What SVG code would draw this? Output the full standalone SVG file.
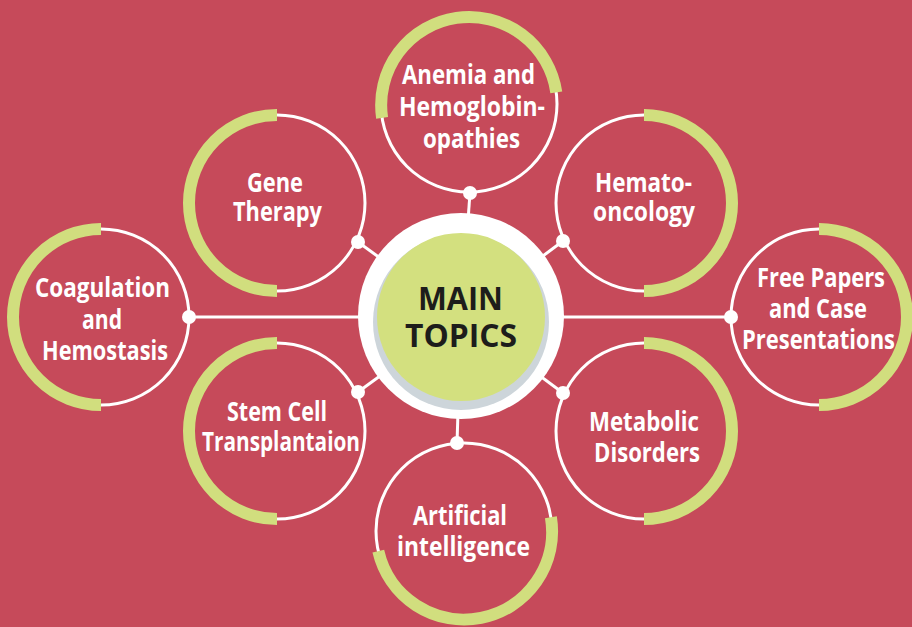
<svg xmlns="http://www.w3.org/2000/svg" width="912" height="627" viewBox="0 0 912 627">
<defs>
<style>
.ring{fill:none;stroke:#ffffff;stroke-width:3}
.arc{fill:none;stroke:#D1DE7E;stroke-width:12}
.dot{fill:#ffffff}
.lbl{font-family:"Open Sans","Liberation Sans",sans-serif;font-weight:bold;font-size:26px;fill:#ffffff;text-anchor:middle}
.main{font-family:"Open Sans","Liberation Sans",sans-serif;font-weight:bold;font-size:32px;fill:#1d1d1b;text-anchor:middle}
.conn{stroke:#ffffff;stroke-width:3;fill:none}
</style>
</defs>
<rect x="0" y="0" width="912" height="627" fill="#C64A5A"/>
<g id="connectors">
<line class="conn" x1="189" y1="317" x2="731" y2="317"/>
<line class="conn" x1="358" y1="242" x2="461" y2="317"/>
<line class="conn" x1="470" y1="193" x2="461" y2="317"/>
<line class="conn" x1="563" y1="241" x2="461" y2="317"/>
<line class="conn" x1="358" y1="392" x2="461" y2="317"/>
<line class="conn" x1="563" y1="393" x2="461" y2="317"/>
<line class="conn" x1="457" y1="443" x2="461" y2="317"/>
</g>
<g id="center">
<circle cx="461" cy="316" r="103" fill="#ffffff"/>
<circle cx="461" cy="322" r="88" fill="#CDD5DA"/>
<circle cx="461" cy="317" r="84" fill="#D3E07F"/>
<text class="main" x="460.5" y="310" textLength="85" lengthAdjust="spacingAndGlyphs">MAIN</text>
<text class="main" x="461" y="347" textLength="112" lengthAdjust="spacingAndGlyphs">TOPICS</text>
</g>
<g id="coagulation">
<circle class="ring" cx="101" cy="317" r="88"/>
<path class="arc" d="M101,229 A88,88 0 0 0 101,405"/>
<circle class="dot" cx="189" cy="317" r="7"/>
<text class="lbl" x="102.5" y="297" textLength="135" lengthAdjust="spacingAndGlyphs">Coagulation</text>
<text class="lbl" x="102" y="329" textLength="40" lengthAdjust="spacingAndGlyphs">and</text>
<text class="lbl" x="105" y="360" textLength="126" lengthAdjust="spacingAndGlyphs">Hemostasis</text>
</g>
<g id="gene-therapy">
<circle class="ring" cx="277" cy="203" r="88"/>
<path class="arc" d="M277,115 A88,88 0 0 0 277,291"/>
<circle class="dot" cx="358" cy="242" r="7"/>
<text class="lbl" x="275" y="192" textLength="56" lengthAdjust="spacingAndGlyphs">Gene</text>
<text class="lbl" x="277.5" y="221" textLength="89" lengthAdjust="spacingAndGlyphs">Therapy</text>
</g>
<g id="anemia">
<circle class="ring" cx="469" cy="104" r="88"/>
<path class="arc" d="M382.1,117.8 A88,88 0 1 1 556.3,92.3"/>
<circle class="dot" cx="470" cy="193" r="7"/>
<text class="lbl" x="468.5" y="84" textLength="133" lengthAdjust="spacingAndGlyphs">Anemia and</text>
<text class="lbl" x="472" y="116" textLength="146" lengthAdjust="spacingAndGlyphs">Hemoglobin-</text>
<text class="lbl" x="471.5" y="148" textLength="97" lengthAdjust="spacingAndGlyphs">opathies</text>
</g>
<g id="hemato-oncology">
<circle class="ring" cx="644" cy="203" r="88"/>
<path class="arc" d="M644,115 A88,88 0 0 1 644,291"/>
<circle class="dot" cx="563" cy="241" r="7"/>
<text class="lbl" x="643.5" y="192" textLength="97" lengthAdjust="spacingAndGlyphs">Hemato-</text>
<text class="lbl" x="644" y="221" textLength="102" lengthAdjust="spacingAndGlyphs">oncology</text>
</g>
<g id="free-papers">
<circle class="ring" cx="819" cy="317" r="88"/>
<path class="arc" d="M819,229 A88,88 0 0 1 819,405"/>
<circle class="dot" cx="731" cy="317" r="7"/>
<text class="lbl" x="821" y="287" textLength="128" lengthAdjust="spacingAndGlyphs">Free Papers</text>
<text class="lbl" x="818" y="318" textLength="98" lengthAdjust="spacingAndGlyphs">and Case</text>
<text class="lbl" x="818.5" y="349" textLength="153" lengthAdjust="spacingAndGlyphs">Presentations</text>
</g>
<g id="stem-cell">
<circle class="ring" cx="277" cy="431" r="88"/>
<path class="arc" d="M277,343 A88,88 0 0 0 277,519"/>
<circle class="dot" cx="358" cy="392" r="7"/>
<text class="lbl" x="277" y="421" textLength="100" lengthAdjust="spacingAndGlyphs">Stem Cell</text>
<text class="lbl" x="281" y="451" textLength="158" lengthAdjust="spacingAndGlyphs">Transplantaion</text>
</g>
<g id="metabolic">
<circle class="ring" cx="644" cy="431" r="88"/>
<path class="arc" d="M644,343 A88,88 0 0 1 644,519"/>
<circle class="dot" cx="563" cy="393" r="7"/>
<text class="lbl" x="644" y="431" textLength="110" lengthAdjust="spacingAndGlyphs">Metabolic</text>
<text class="lbl" x="647" y="462" textLength="106" lengthAdjust="spacingAndGlyphs">Disorders</text>
</g>
<g id="artificial-intelligence">
<circle class="ring" cx="464" cy="531" r="88"/>
<path class="arc" d="M550.9,517.2 A88,88 0 0 1 378.3,551.2"/>
<circle class="dot" cx="457" cy="443" r="7"/>
<text class="lbl" x="460" y="525" textLength="94" lengthAdjust="spacingAndGlyphs">Artificial</text>
<text class="lbl" x="463.5" y="556" textLength="133" lengthAdjust="spacingAndGlyphs">intelligence</text>
</g>
</svg>
